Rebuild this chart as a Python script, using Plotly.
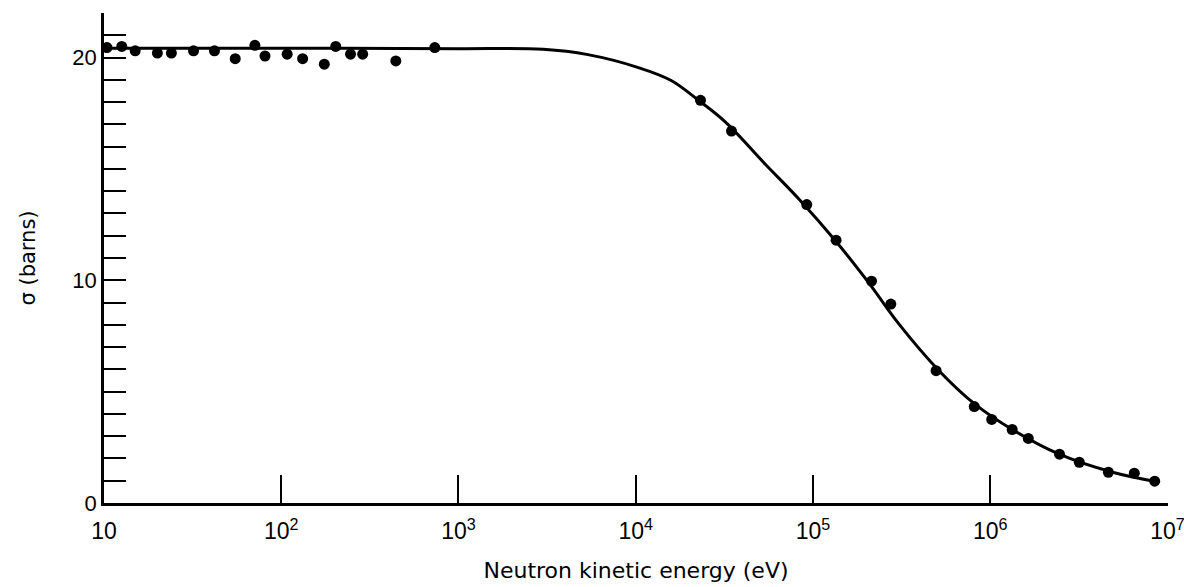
import plotly.graph_objects as go

# Measured points (energy in eV, cross section in barns)
pt_energy = [10.4, 12.6, 15, 20, 24, 32, 42, 55, 71, 81, 108, 132, 175, 203, 246, 288, 443, 735,
             23200, 34700, 92200, 135000, 214000, 275000,
             495000, 813000, 1.02e6, 1.33e6, 1.64e6, 2.46e6, 3.18e6, 4.64e6, 6.5e6, 8.47e6]
pt_sigma = [20.45, 20.5, 20.3, 20.2, 20.2, 20.3, 20.3, 19.95, 20.55, 20.07, 20.15, 19.95, 19.7, 20.5, 20.15, 20.15, 19.85, 20.45,
            18.08, 16.7, 13.4, 11.8, 9.96, 8.93,
            5.94, 4.33, 3.75, 3.30, 2.90, 2.19, 1.83, 1.38, 1.34, 0.98]

# Smooth curve
curve_energy = [10, 100, 1000, 3000, 5370, 10350, 15850, 22600, 32100, 54000, 83000, 135000,
                207000, 305000, 514000, 813000, 1.33e6, 2.45e6, 4.9e6, 8.9e6]
curve_sigma = [20.42, 20.42, 20.4, 20.37, 20.13, 19.55, 18.97, 18.08, 17.1, 15.2, 13.66, 11.74,
               9.87, 8.04, 5.94, 4.46, 3.30, 2.19, 1.38, 0.94]

x_tickvals = [10, 100, 1000, 1e4, 1e5, 1e6, 1e7]
x_ticktext = ["10", "10<sup>2</sup>", "10<sup>3</sup>", "10<sup>4</sup>", "10<sup>5</sup>", "10<sup>6</sup>", "10<sup>7</sup>"]
y_tickvals = [0, 10, 20]

fig = go.Figure()
fig.add_trace(go.Scatter(x=curve_energy, y=curve_sigma, mode="lines",
                         line=dict(color="black", width=3, shape="spline", smoothing=1.0),
                         showlegend=False, hoverinfo="skip"))
fig.add_trace(go.Scatter(x=pt_energy, y=pt_sigma, mode="markers",
                         marker=dict(color="black", size=11), showlegend=False))

fig.update_xaxes(type="log", range=[1, 7.003], tickvals=x_tickvals, ticktext=x_ticktext,
                 ticks="inside", ticklen=28, tickwidth=1.5, tickcolor="black",
                 showline=True, linewidth=2.5, linecolor="black",
                 showgrid=False, zeroline=False, automargin=False,
                 ticklabelstandoff=6, ticklabeloverflow="allow",
                 tickfont=dict(family="Liberation Sans", size=23, color="black"),
                 title=dict(text="Neutron kinetic energy (eV)", standoff=20,
                            font=dict(family="DejaVu Sans", size=22, color="black")))
fig.update_yaxes(range=[0, 22], tickvals=y_tickvals,
                 ticks="inside", ticklen=22, tickwidth=2, tickcolor="black",
                 minor=dict(tickmode="linear", tick0=0, dtick=1, ticks="inside",
                            ticklen=22, tickwidth=2, tickcolor="black"),
                 showline=True, linewidth=2.5, linecolor="black",
                 showgrid=False, zeroline=False, automargin=False,
                 ticklabeloverflow="allow",
                 tickfont=dict(family="Liberation Sans", size=22, color="black"),
                 title=dict(text="σ (barns)", standoff=32,
                            font=dict(family="DejaVu Sans", size=21, color="black")))

fig.update_layout(width=1184, height=587, plot_bgcolor="white", paper_bgcolor="white",
                  margin=dict(l=104, r=16, t=13, b=84))

fig.write_html("out.html", config={"displayModeBar": False},
               post_script="document.body.style.margin='0';document.body.style.overflow='hidden';")
